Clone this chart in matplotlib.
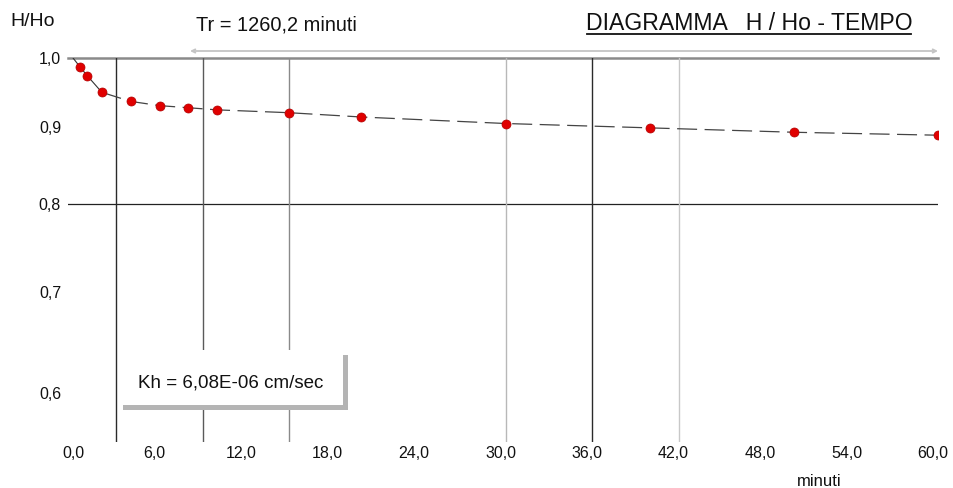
import matplotlib
matplotlib.use("Agg")
import matplotlib.pyplot as plt
import matplotlib.patheffects as pe
from matplotlib.patches import Rectangle
from matplotlib.ticker import NullLocator
from matplotlib.transforms import ScaledTranslation

plt.rcParams['font.family'] = ['Liberation Sans', 'DejaVu Sans']

# prova di permeabilita' - risalita/abbassamento relativo nel tempo
tempo = [0.5, 1, 2, 4, 6, 8, 10, 15, 20, 30, 40, 50, 60]
h_ho = [0.986, 0.973, 0.949, 0.936, 0.930, 0.927, 0.924, 0.920, 0.914,
        0.905, 0.899, 0.893, 0.889]

x_ticks = [0, 6, 12, 18, 24, 30, 36, 42, 48, 54, 60]
y_ticks = [0.6, 0.7, 0.8, 0.9, 1.0]

# linee verticali di riferimento (minuti, colore)
rif_minuti = [3, 9, 15, 30, 36, 42]
rif_colori = ['#2a2a2a', '#5a5a5a', '#8a8a8a', '#b8b8b8', '#2a2a2a', '#c8c8c8']

W, H = 954, 488
fig = plt.figure(figsize=(W / 100, H / 100), dpi=100)


def fx(px):
    return px / W


def fy(py):
    return 1 - py / H


ax = fig.add_axes([fx(68), fy(442), fx(938) - fx(68), fy(58) - fy(442)])
ax.set_yscale('log')
ax.set_xlim(-0.35, 60)
ax.set_ylim(0.557, 1.0)
for s in ax.spines.values():
    s.set_visible(False)

ax.set_xticks(x_ticks)
ax.set_xticklabels([f"{v:.1f}".replace('.', ',') for v in x_ticks])
ax.set_yticks(y_ticks)
ax.set_yticklabels([f"{v:.1f}".replace('.', ',') for v in y_ticks])
ax.yaxis.set_minor_locator(NullLocator())
ax.tick_params(length=0, labelsize=11.5, colors='#111111')
ax.tick_params(axis='x', pad=3)
ax.tick_params(axis='y', pad=5)
shift = ScaledTranslation(-5 / 100, 0, fig.dpi_scale_trans)
for i, lab in enumerate(ax.get_xticklabels()):
    if i > 0:
        lab.set_transform(lab.get_transform() + shift)

# griglia
ax.axhline(1.0, color='#8a8a8a', lw=1.8, clip_on=False, zorder=1)
ax.axhline(0.8, color='#222222', lw=0.9, zorder=1)
for m, c in zip(rif_minuti, rif_colori):
    ax.axvline(m, color=c, lw=1.0, zorder=1)

# curva: tratto continuo iniziale, poi tratteggiato
t_all = [0] + tempo
h_all = [1.0] + h_ho
ax.plot(t_all[:4], h_all[:4], color='#333333', lw=0.8, zorder=2)
ax.plot(t_all[3:], h_all[3:], color='#444444', lw=0.9, dashes=(16, 6), zorder=2)
ax.plot(tempo, h_ho, 'o', ms=6.5, color='#e00000', mec='#b00000', mew=0.5,
        zorder=3)

# riquadro Kh con ombra
box = Rectangle((fx(123), fy(405)), fx(343) - fx(123), fy(350) - fy(405),
                transform=fig.transFigure, facecolor='white', edgecolor='none',
                zorder=5,
                path_effects=[pe.SimplePatchShadow(offset=(3.6, -3.6),
                                                   shadow_rgbFace='#b4b4b4',
                                                   alpha=1.0),
                              pe.Normal()])
fig.add_artist(box)
fig.add_artist(Rectangle((fx(123), fy(410)), fx(128) - fx(123), fy(405) - fy(410),
                         transform=fig.transFigure, facecolor='#b4b4b4',
                         edgecolor='none', zorder=5))
fig.text(fx(231), fy(383), "Kh = 6,08E-06 cm/sec", fontsize=13.5,
         ha='center', va='center', color='#111111', zorder=6)

# testi
fig.text(fx(10), fy(22), "H/Ho", fontsize=14, ha='left', va='center',
         color='#111111')
fig.text(fx(276), fy(25), "Tr = 1260,2 minuti", fontsize=14.4, ha='center',
         va='center', color='#111111')
fig.text(fx(749), fy(24), "DIAGRAMMA   H / Ho - TEMPO", fontsize=16.6,
         ha='center', va='center', color='#111111')
fig.add_artist(plt.Line2D([fx(587), fx(911)], [fy(34), fy(34)],
                          transform=fig.transFigure, color='#111111', lw=1.3))
fig.text(fx(819), fy(481), "minuti", fontsize=12, ha='center', va='center',
         color='#111111')

# freccia della durata Tr
ax.annotate('', xy=(fx(938), fy(51)), xytext=(fx(190), fy(51)),
            xycoords='figure fraction', textcoords='figure fraction',
            arrowprops=dict(arrowstyle='<->', color='#c4c4c4', lw=1.3,
                            mutation_scale=6, shrinkA=0, shrinkB=0))

fig.savefig('out.png', dpi=100, facecolor='white')
